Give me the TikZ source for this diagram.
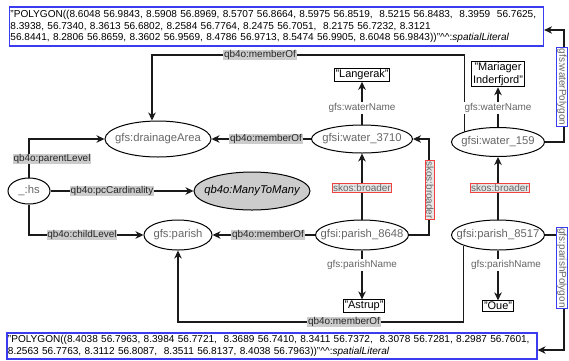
\documentclass[tikz,border=0pt]{standalone}
\usepackage{fontspec}
\setmainfont{Liberation Sans}
\usetikzlibrary{arrows.meta,shapes.geometric}
\definecolor{lnc}{HTML}{1A1A1A}
\definecolor{txg}{HTML}{666666}
\definecolor{lbg}{HTML}{CCCCCC}
\definecolor{bluebd}{HTML}{3B3BF0}
\definecolor{redbd}{HTML}{F04040}
\definecolor{redfill}{HTML}{E6E6E6}
\definecolor{mmfill}{HTML}{CCCCCC}
\newcommand{\zw}[1]{\makebox[0pt][c]{#1}}
\tikzset{
  ell/.style={draw=black, ellipse, inner sep=0pt, line width=1bp, font=\fontsize{11.3}{13}\selectfont, text=txg},
  lit/.style={draw=black, rectangle, inner sep=1.2bp, line width=1bp, font=\fontsize{11}{13}\selectfont, align=center},
  poly/.style={draw=bluebd, rectangle, line width=1.2bp, inner xsep=1bp, inner ysep=0pt, font=\fontsize{10.1}{11.8}\selectfont, align=left},
  qlab/.style={fill=lbg, inner sep=0.8bp, font=\fontsize{10}{12}\selectfont, text=black!85},
  glab/.style={fill=white, inner sep=1bp, font=\fontsize{10}{12}\selectfont, text=txg},
  rlab/.style={draw=redbd, fill=redfill, line width=1bp, inner sep=1bp, font=\fontsize{10}{12}\selectfont, text=txg},
  blab/.style={draw=bluebd, fill=white, line width=1bp, inner sep=1bp, font=\fontsize{10}{12}\selectfont, text=txg},
  arr/.style={draw=lnc, line width=1.1bp, -{Stealth[length=8bp,width=7.5bp,inset=2.5bp]}},
}
\begin{document}
\begin{tikzpicture}[x=1bp,y=-1bp]
\useasboundingbox (0,0) rectangle (569,360);
% literal boxes
\node[poly, minimum width=534bp, minimum height=39bp, text width=532bp] (topbox) at (276.5,26.5)
 {\mbox{"POLYGON((8.6048 56.9843, 8.5908 56.8969, 8.5707 56.8664, 8.5975 56.8519,\ \ 8.5215 56.8483,\ \ 8.3959\ \ 56.7625,}\\
 \mbox{8.3938, 56.7340, 8.3613 56.6802, 8.2584 56.7764, 8.2475 56.7051,\ \ 8.2175 56.7232, 8.3121}\\
 \mbox{56.8441, 8.2806 56.8659, 8.3602 56.9569, 8.4786 56.9713, 8.5474 56.9905, 8.6048 56.9843))"\textasciicircum\textasciicircum:\textit{spatialLiteral}}};
\node[poly, minimum width=530bp, minimum height=26bp, text width=528bp] (botbox) at (272,346)
 {\mbox{"POLYGON((8.4038 56.7963, 8.3984 56.7721,\ \ 8.3689 56.7410, 8.3411 56.7372,\ \ 8.3078 56.7281, 8.2987 56.7601,}\\
 \mbox{8.2563 56.7763, 8.3112 56.8087,\ \ 8.3511 56.8137, 8.4038 56.7963))"\textasciicircum\textasciicircum:\textit{spatialLiteral}}};
% ellipses
\node[ell, minimum width=106bp, minimum height=36bp] (da) at (158,139) {\zw{gfs:drainageArea}};
\node[ell, minimum width=42bp, minimum height=26bp] (hs) at (29,191) {\zw{\_:hs}};
\node[ell, fill=mmfill, text=black, minimum width=116bp, minimum height=38bp] (mm) at (252,191) {\zw{\itshape qb4o:ManyToMany}};
\node[ell, minimum width=68bp, minimum height=30bp] (pa) at (178,235) {\zw{gfs:parish}};
\node[ell, minimum width=101bp, minimum height=28bp] (w37) at (362,139) {\zw{gfsi:water\_3710}};
\node[ell, minimum width=93bp, minimum height=30bp] (p86) at (362,235) {\zw{gfsi:parish\_8648}};
\node[ell, minimum width=93bp, minimum height=29bp] (w15) at (498,142) {\zw{gfsi:water\_159}};
\node[ell, minimum width=93bp, minimum height=30bp] (p85) at (498,235) {\zw{gfsi:parish\_8517}};
% value boxes
\node[lit] (lang) at (362,75) {"Langerak"};
\node[lit] (mar) at (498,74) {"Mariager\\Inderfjord"};
\node[lit] (ast) at (364,306) {"Astrup"};
\node[lit] (oue) at (498,306) {"Oue"};
% bend points
\coordinate (c1) at (152,55);
\coordinate (c2) at (429,139);
\coordinate (c3) at (564,30);
\coordinate (c4) at (564,350);
\coordinate (c5) at (178,322);
% connectors
\draw[arr] (w15.163) |- (c1) -- (c1 |- da.north);
\draw[arr] (w37.west) -- (da.east);
\draw[arr] (hs.north) |- (da.west);
\draw[arr] (hs.east) -- (mm.west);
\draw[arr] (hs.south) |- (pa.west);
\draw[arr] (p86.west) -- (pa.east);
\draw[arr] (p85.197) |- (c5) -- (pa.south);
\draw[arr] (p86.north) -- (w37.south);
\draw[arr] (p86.east) -| (c2) -- (w37.east);
\draw[arr] (w37.north) -- (lang.south);
\draw[arr] (w15.north) -- (mar.south);
\draw[arr] (p85.north) -- (w15.south);
\draw[arr] (w15.east) -| (c3) -- (c3 -| topbox.east);
\draw[arr] (p85.east) -| (c4) -- (c4 -| botbox.east);
\draw[arr] (p86.south) -- (p86.south |- ast.north);
\draw[arr] (p85.south) -- (oue.north);
% labels
\node[qlab] (l1) at (260,55) {qb4o:memberOf};
\node[qlab] (l2) at (266,139) {qb4o:memberOf};
\node[qlab] (l3) at (52,159) {qb4o:parentLevel};
\node[qlab] (l4) at (112,191) {qb4o:pcCardinality};
\node[qlab] (l5) at (82,235) {qb4o:childLevel};
\node[qlab] (l6) at (268,235) {qb4o:memberOf};
\node[qlab] (l7) at (344,322) {qb4o:memberOf};
\node[rlab] (l8) at (362,188) {skos:broader};
\node[rlab, rotate=-90] (l9) at (430,190) {skos:broader};
\node[rlab] (l10) at (500,188) {skos:broader};
\node[glab] (l11) at (362,108) {gfs:waterName};
\node[glab] (l12) at (498,108) {gfs:waterName};
\node[glab] (l13) at (362,265) {gfs:parishName};
\node[glab] (l14) at (506,265) {gfs:parishName};
\node[blab, rotate=-90] (l15) at (562,87) {gfs:waterPolygon};
\node[blab, rotate=-90] (l16) at (562,268) {gfs:parishPolygon};
\end{tikzpicture}
\end{document}
